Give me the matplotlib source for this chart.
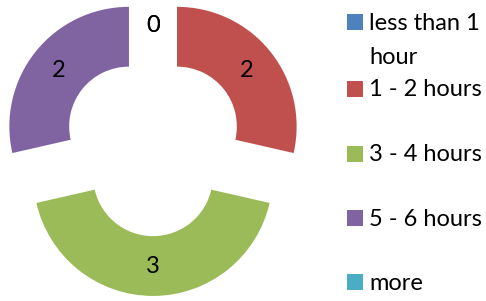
import matplotlib.pyplot as plt
from matplotlib.patches import Rectangle

CATEGORIES = ["less than 1\nhour", "1 - 2 hours", "3 - 4 hours", "5 - 6 hours", "more"]
COUNTS = [0, 2, 3, 2, 0]
COLORS = ["#4F81BD", "#C0504D", "#9BBB59", "#8064A2", "#4BACC6"]

W, H = 486, 301
# legend rows (px from top): baseline of first text line for each entry
LEGEND_BASELINES = [29.5, 96, 161, 225.5, 289.5]
LINE_STEP = 34

plt.rcParams["font.family"] = ["Lato", "DejaVu Sans"]


def px_x(x):
    return x / W


def px_y(y):
    return (H - y) / H


fig = plt.figure(figsize=(W / 100, H / 100), dpi=100)

# pie centre and outer radius measured in pixels
cx, cy, radius, half = 153, 145.6, 119.6, 150
ax = fig.add_axes([px_x(cx - half), px_y(cy + half), 2 * half / W, 2 * half / H])
total = sum(COUNTS)
ax.pie(
    COUNTS,
    colors=COLORS,
    startangle=90,
    counterclock=False,
    explode=[0.257] * len(COUNTS),
    wedgeprops=dict(width=0.5, linewidth=0),
    autopct=lambda p: f"{p * total / 100:.0f}",
    pctdistance=0.75,
    textprops=dict(fontsize=17, color="black"),
)
lim = half / radius
ax.set_xlim(-lim, lim)
ax.set_ylim(-lim, lim)
ax.axis("off")

for label, color, base in zip(CATEGORIES, COLORS, LEGEND_BASELINES):
    fig.add_artist(
        Rectangle((px_x(347), px_y(base + 0.5)), 16 / W, 16 / H, facecolor=color, edgecolor="none",
                  transform=fig.transFigure)
    )
    # matplotlib puts the last line on the baseline, so shift multi-line labels down
    last_base = base + LINE_STEP * label.count("\n")
    fig.text(px_x(369), px_y(last_base), label, fontsize=17, va="baseline", ha="left", linespacing=1.75)

fig.savefig("out.png", dpi=100)
